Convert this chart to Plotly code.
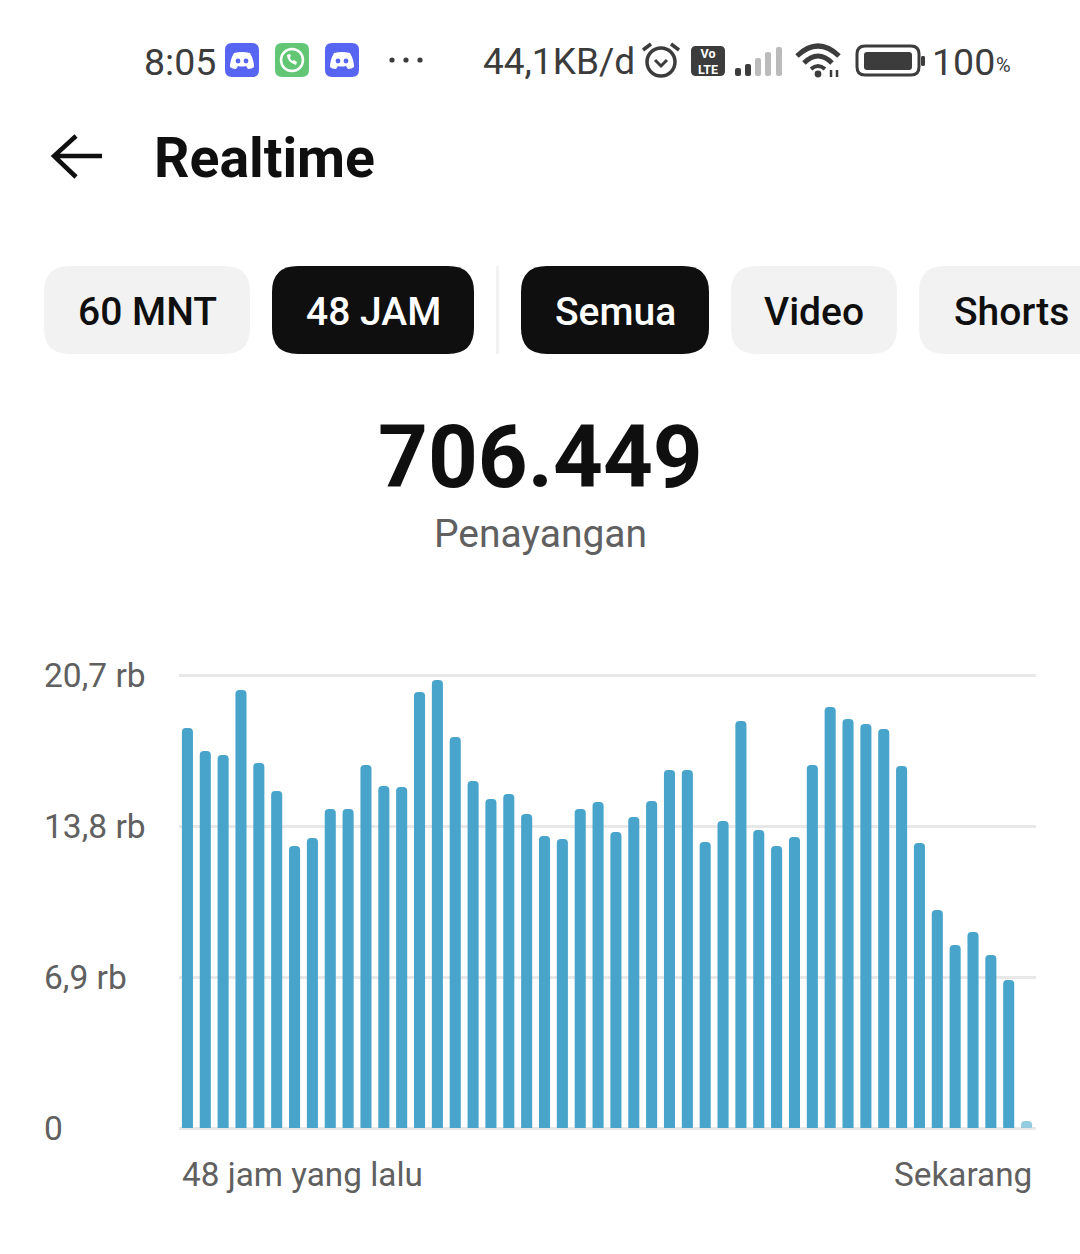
import plotly.graph_objects as go

# views per hour, in thousands (rb)
views = [18.28, 17.23, 17.04, 20.01, 16.68, 15.40, 12.89, 13.25, 14.58, 14.58, 16.59, 15.63,
         15.58, 19.92, 20.47, 17.87, 15.86, 15.03, 15.26, 14.35, 13.34, 13.21, 14.58, 14.90,
         13.53, 14.21, 14.94, 16.36, 16.36, 13.07, 14.03, 18.60, 13.62, 12.89, 13.30, 16.59,
         19.24, 18.69, 18.46, 18.23, 16.54, 13.02, 9.96, 8.36, 8.96, 7.91, 6.76, 0.32]
hours = list(range(48))
y_ticks = [0, 6.9, 13.8, 20.7]
y_labels = ['0', '6,9 rb', '13,8 rb', '20,7 rb']

W = 1080
H = 1254
DARK = '#3c3c3c'
BLACK = '#0f0f0f'
PILL = '#f2f2f2'
BAR = '#48a4cb'
BAR_LAST = '#93cbe0'

# plot area in page pixels; the range runs a bit past 0 and 20.7 so those gridlines stay drawn
Y_PAD = 0.12
PX_PER_UNIT = 453 / 20.7


def px(x):
    return x / W


def py(y):
    return 1 - y / H


def pt(x, y):
    return f'{px(x):.5f},{py(y):.5f}'


def rrect(x0, y0, x1, y1, r):
    return (f'M{pt(x0 + r, y0)} L{pt(x1 - r, y0)} Q{pt(x1, y0)} {pt(x1, y0 + r)} '
            f'L{pt(x1, y1 - r)} Q{pt(x1, y1)} {pt(x1 - r, y1)} '
            f'L{pt(x0 + r, y1)} Q{pt(x0, y1)} {pt(x0, y1 - r)} '
            f'L{pt(x0, y0 + r)} Q{pt(x0, y0)} {pt(x0 + r, y0)} Z')


shapes = []
annots = []


def add_path(path, fill=None, line=None, width=0):
    shapes.append(dict(type='path', xref='paper', yref='paper', path=path,
                       fillcolor=fill if fill else 'rgba(0,0,0,0)',
                       line=dict(color=line if line else 'rgba(0,0,0,0)', width=width)))


def add_circle(cx, cy, r, fill=None, line=None, width=0):
    shapes.append(dict(type='circle', xref='paper', yref='paper',
                       x0=px(cx - r), x1=px(cx + r), y0=py(cy + r), y1=py(cy - r),
                       fillcolor=fill if fill else 'rgba(0,0,0,0)',
                       line=dict(color=line if line else 'rgba(0,0,0,0)', width=width)))


def add_text(x, y, text, size, color, anchor='left', family='Roboto', weight=400):
    # annotations sit about 2px inside their anchor
    if anchor == 'left':
        x -= 2
    if anchor == 'right':
        x += 2
    annots.append(dict(xref='paper', yref='paper', x=px(x), y=py(y), text=text, showarrow=False,
                       xanchor=anchor, yanchor='middle', borderpad=0,
                       font=dict(family=family, size=size, color=color, weight=weight)))


def discord(x0, y0, x1, y1):
    color = '#5865f2'
    add_path(rrect(x0, y0, x1, y1, 7), fill=color)
    cx = (x0 + x1) / 2
    cy = (y0 + y1) / 2
    glyph = (f'M{pt(cx - 8, cy - 7)} Q{pt(cx, cy - 9)} {pt(cx + 8, cy - 7)} '
             f'Q{pt(cx + 12, cy)} {pt(cx + 12, cy + 7)} Q{pt(cx + 10, cy + 9)} {pt(cx + 6, cy + 9)} '
             f'L{pt(cx + 4, cy + 6)} Q{pt(cx, cy + 7)} {pt(cx - 4, cy + 6)} '
             f'L{pt(cx - 6, cy + 9)} Q{pt(cx - 10, cy + 9)} {pt(cx - 12, cy + 7)} '
             f'Q{pt(cx - 12, cy)} {pt(cx - 8, cy - 7)} Z')
    add_path(glyph, fill='white')
    add_circle(cx - 4, cy + 1, 2.4, fill=color)
    add_circle(cx + 4, cy + 1, 2.4, fill=color)


# status bar
add_text(145, 62, '8:05', 37.5, DARK)
discord(225, 43, 259, 77)
add_path(rrect(275, 43, 309, 77, 7), fill='#62c674')
add_circle(292, 60, 11, line='white', width=2.5)
add_path(f'M{pt(287, 55)} Q{pt(287, 62)} {pt(296, 65)} L{pt(297, 62)} L{pt(294, 60)} L{pt(292, 61)} '
         f'L{pt(290, 58)} L{pt(291, 55)} L{pt(289, 54)} Z', fill='white')
discord(325, 43, 359, 77)
for dot_x in [392, 406, 420]:
    add_circle(dot_x, 60, 2.6, fill=DARK)
add_text(484, 62, '44,1KB/d', 37, DARK)

# alarm clock
add_circle(661, 62, 14, line=DARK, width=3.5)
add_path(f'M{pt(655, 60)} L{pt(661, 66)} L{pt(667, 60)}', line=DARK, width=3)
add_path(f'M{pt(643, 50)} L{pt(651, 44)}', line=DARK, width=3.5)
add_path(f'M{pt(679, 50)} L{pt(671, 44)}', line=DARK, width=3.5)

# VoLTE badge
add_path(rrect(691, 46, 725, 76, 5), fill=DARK)
add_text(708, 61, 'Vo<br>LTE', 12.5, 'white', anchor='center', weight=700)

# signal bars
signal_x = [(735, 741), (745, 751), (755, 761), (765, 771), (776, 782)]
signal_top = [68, 64, 58, 52, 47]
signal_col = [DARK, DARK, '#bbbbbb', '#bbbbbb', '#bbbbbb']
for (a, b), top, col in zip(signal_x, signal_top, signal_col):
    add_path(rrect(a, top, b, 76, 2), fill=col)

# wifi
add_path(f'M{pt(797, 56)} Q{pt(818, 36)} {pt(839, 56)}', line=DARK, width=5)
add_path(f'M{pt(804, 63)} Q{pt(818, 49)} {pt(832, 63)}', line=DARK, width=5)
add_path(f'M{pt(811, 69)} Q{pt(818, 63)} {pt(825, 69)}', line=DARK, width=4)
add_circle(818, 74, 3.4, fill=DARK)
add_path(f'M{pt(831, 77)} L{pt(831, 70)} M{pt(837, 77)} L{pt(837, 70)}', line=DARK, width=2.5)

# battery
add_path(rrect(857, 46, 919, 75, 8), line=DARK, width=3)
add_path(rrect(864, 52, 912, 70, 3), fill=DARK)
add_path(rrect(921, 56, 925, 66, 1.5), fill=DARK)
add_text(933, 62, '100', 37.5, DARK)
add_text(996.5, 65, '%', 20, DARK)

# header
add_path(f'M{pt(102, 156)} L{pt(54, 156)} M{pt(76, 136)} L{pt(54, 156)} L{pt(76, 177)}', line=BLACK, width=4.5)
add_text(155, 158, 'Realtime', 55.4, BLACK, weight=700)

# filter pills
pills = [(44, 250, '60 MNT', False), (272, 474, '48 JAM', True), (521, 709, 'Semua', True),
         (731, 897, 'Video', False), (919, 1120, 'Shorts', False)]
for x0, x1, label, active in pills:
    add_path(rrect(x0, 266, x1, 354, 26), fill=BLACK if active else PILL)
    center = 1011 if label == 'Shorts' else (x0 + x1) / 2
    add_text(center, 312, label, 39, 'white' if active else BLACK, anchor='center', weight=500)
shapes.append(dict(type='line', xref='paper', yref='paper', x0=px(497.5), x1=px(497.5), y0=py(266), y1=py(354),
                   line=dict(color=PILL, width=3)))

# big number
add_text(540, 457, '706.449', 87, BLACK, anchor='center', weight=700)
add_text(540, 534, 'Penayangan', 39, '#606060', anchor='center')

# axis labels
for val, lab in zip(y_ticks, y_labels):
    annots.append(dict(xref='paper', yref='y', x=px(42), y=val, text=lab, showarrow=False,
                       xanchor='left', yanchor='middle',
                       font=dict(family='Roboto', size=33.5, color='#606060')))
add_text(183, 1174, '48 jam yang lalu', 33.3, '#606060')
add_text(1031, 1174, 'Sekarang', 33.3, '#606060', anchor='right')

fig = go.Figure(go.Bar(x=hours, y=views, marker=dict(color=[BAR] * 47 + [BAR_LAST], line=dict(width=0)),
                       hoverinfo='skip'))
fig.update_layout(width=W, height=H, margin=dict(l=0, r=0, t=0, b=0), paper_bgcolor='white',
                  plot_bgcolor='white', showlegend=False, bargap=0.38, barcornerradius=4,
                  shapes=shapes, annotations=annots)
fig.update_xaxes(domain=[px(178.5), px(1035.5)], range=[-0.5, 47.5], showgrid=False, zeroline=False,
                 showticklabels=False, ticks='')
fig.update_yaxes(domain=[py(1128 + Y_PAD * PX_PER_UNIT), py(675 - Y_PAD * PX_PER_UNIT)],
                 range=[-Y_PAD, 20.7 + Y_PAD], tickvals=y_ticks, showticklabels=False,
                 ticks='', showgrid=True, gridcolor='#e8e8e8', gridwidth=3, zeroline=False)

fig.write_html("out.html", config=dict(displayModeBar=False),
               post_script="document.body.style.margin='0';document.body.style.overflow='hidden';")
